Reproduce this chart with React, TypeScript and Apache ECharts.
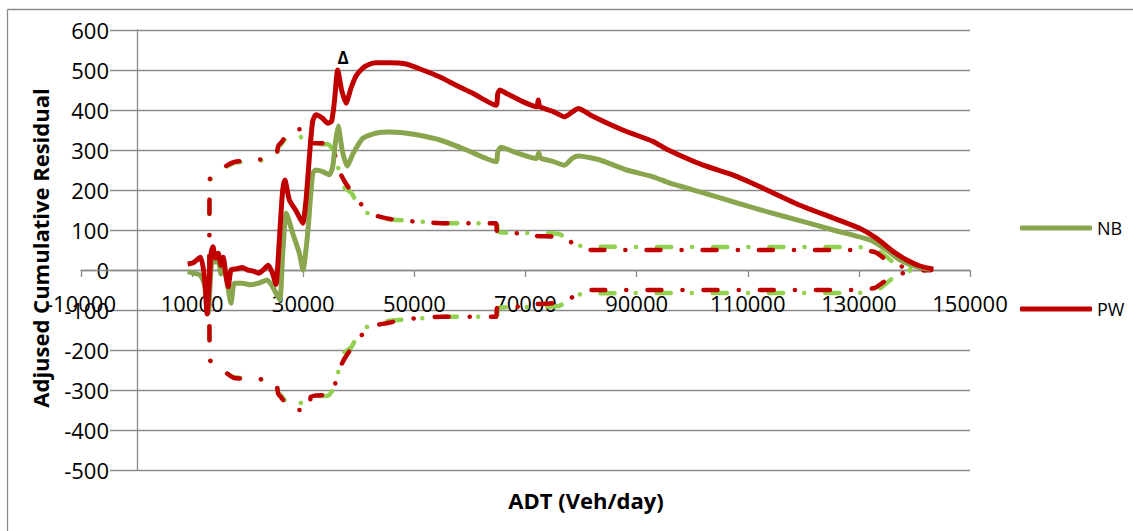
import React, { useEffect, useRef } from "react";
import * as echarts from "echarts";

// ---- data (x = ADT veh/day, y = adjusted cumulative residual) ----
const xTicksMin = -10000;
const xTicksMax = 150000;
const xTickStep = 20000;
const yMin = -500;
const yMax = 600;
const yStep = 100;

const nbCurve: number[][] = [
  [9200, -4], [10200, -8], [11500, -13], [12300, -40], [12900, -108], [13300, -20],
  [13700, 42], [14200, 20], [14700, 25], [15200, -10], [15700, 5], [16400, -40],
  [17000, -83], [17600, -33], [19000, -33], [20500, -37], [22000, -33], [23500, -25],
  [24500, -42], [25750, -75], [26300, 40], [26950, 142], [28100, 92], [29300, 42],
  [29950, 0], [30800, 92], [31700, 242], [32300, 250], [33500, 246], [34700, 238],
  [35300, 258], [35800, 320], [36300, 360], [37000, 300], [37900, 260], [39000, 292],
  [40700, 329], [43000, 342], [45500, 345], [47500, 344], [50400, 338], [54600, 325],
  [59400, 300], [64700, 271], [65000, 295], [65600, 307], [67800, 296], [72000, 279],
  [72400, 293], [72700, 280], [75000, 271], [77000, 262], [78500, 280], [79500, 285],
  [83400, 275], [88200, 250], [93000, 233], [96000, 217], [102000, 193], [107500, 170],
  [113400, 146], [119500, 123], [125400, 100], [132000, 75], [135000, 50], [137400, 25],
  [140400, 8], [142800, 2],
];

const pwCurve: number[][] = [
  [9200, 15], [10200, 18], [11500, 32], [12200, -15], [12700, -110], [13100, -30],
  [13450, 45], [13750, 58], [14200, 30], [14700, 42], [15200, 12], [15600, 32],
  [16000, -5], [16500, -42], [17000, 0], [18000, 3], [19000, 6], [20000, 0],
  [21000, -3], [22000, -8], [23000, 3], [23700, 12], [24400, -6], [25100, -36],
  [25500, 30], [25900, 120], [26300, 200], [26700, 225], [27500, 175], [28700, 148],
  [29900, 117], [30500, 175], [31200, 300], [31700, 372], [32300, 388], [33500, 379],
  [34400, 367], [35100, 372], [35600, 420], [36200, 500], [36900, 450], [37700, 417],
  [38600, 455], [39500, 485], [40500, 502], [41500, 512], [43000, 518], [45500, 518],
  [48500, 515], [51500, 500], [54500, 483], [57500, 462], [60500, 442], [64700, 412],
  [65000, 440], [65400, 450], [66500, 442], [69500, 421], [72000, 408], [72300, 425],
  [72600, 408], [75000, 396], [77000, 383], [78500, 396], [79500, 404], [82000, 385],
  [87500, 350], [93000, 321], [95400, 302], [102000, 262], [107400, 237], [112200, 208],
  [119400, 162], [125000, 132], [130200, 104], [133200, 79], [136200, 46], [138600, 25],
  [141000, 10], [143400, 2],
];

const nbUpper: number[][] = [
  [13100, 0], [13150, 222], [15500, 252], [17600, 268], [21300, 272], [25000, 280],
  [25500, 306], [26000, 314], [28000, 344], [29200, 337], [31000, 316], [34500, 314],
  [35300, 300], [36000, 275], [37000, 212], [38700, 192], [40300, 152], [42000, 140],
  [45000, 128], [48000, 124], [52000, 120], [55000, 117], [64800, 117], [65100, 95],
  [68000, 93], [72000, 92], [76000, 90], [78000, 72], [80000, 60], [82000, 58],
  [132000, 57], [134000, 44], [136500, 16], [138600, 3], [142000, 0],
];

const nbLower: number[][] = [
  [13100, 0], [13150, -222], [15500, -252], [17600, -268], [21300, -272], [25000, -280],
  [25500, -306], [26000, -314], [28000, -344], [29200, -337], [31000, -316], [34500, -314],
  [35300, -300], [36000, -275], [37000, -212], [38700, -192], [40300, -150], [42000, -140],
  [45000, -128], [48000, -124], [52000, -120], [55000, -117], [64800, -117], [65100, -95],
  [68000, -93], [72000, -92], [76000, -90], [78000, -72], [80000, -60], [82000, -58],
  [132000, -57], [134000, -44], [136500, -16], [138600, -3], [142000, 0],
];

const pwUpper: number[][] = [
  [13100, 0], [13150, 225], [15500, 255], [17600, 270], [21300, 275], [25000, 283],
  [25500, 310], [26000, 318], [28000, 352], [31200, 350], [31350, 318], [34200, 316],
  [35500, 308], [36000, 262], [37500, 220], [39500, 180], [42000, 142], [45000, 129],
  [48500, 123], [52000, 119], [55000, 117], [64700, 117], [64900, 96], [68000, 92],
  [71800, 90], [72100, 85], [75000, 83], [78000, 71], [80500, 52], [82000, 50],
  [130000, 50], [133000, 44], [136000, 15], [139500, 4], [143000, 0],
];

const pwLower: number[][] = [
  [13100, 0], [13150, -223], [15500, -250], [17600, -270], [21300, -272], [25000, -280],
  [25500, -310], [26000, -318], [28000, -350], [31200, -350], [31350, -317], [34200, -312],
  [35500, -304], [36000, -262], [37500, -220], [39500, -180], [42000, -142], [45000, -133],
  [48500, -123], [52000, -119], [55000, -117], [64700, -117], [64900, -95], [68000, -92],
  [71800, -90], [72100, -85], [75000, -83], [78000, -71], [80500, -52], [82000, -50],
  [130000, -50], [133000, -44], [136000, -15], [139500, -4], [143000, 0],
];

const seriesNames = ["NB", "PW"];
const xTitle = "ADT (Veh/day)";
const yTitle = "Adjused Cumulative Residual";
const peakMark = "Δ";

const RED = "#C00000";
const OLIVE = "#89A54E";
const LIGHT = "#92D050";
const GRID = "#8a8a8a";
const FONT = "'Open Sans', 'Noto Sans', sans-serif";

export default function App() {
  const ref = useRef<HTMLDivElement>(null);

  useEffect(() => {
    document.body.style.margin = "0";
    if (!ref.current) return;
    const chart = echarts.init(ref.current, undefined, { renderer: "svg" });

    const dashDot = [14, 21, 0.1, 21];
    const boundSeries = (name: string, data: number[][], color: string) => ({
      name,
      type: "line",
      data,
      smooth: 0.2,
      symbol: "none",
      lineStyle: { color, width: 4.5, type: dashDot, cap: "round" },
      z: 2,
    });

    chart.setOption({
      animation: false,
      textStyle: { fontFamily: FONT },
      grid: { left: 81, right: 163, top: 30, bottom: 61, containLabel: false },
      xAxis: {
        type: "value",
        position: "bottom",
        offset: -200,
        z: 1,
        min: xTicksMin,
        max: xTicksMax,
        interval: xTickStep,
        axisLine: { onZero: false, lineStyle: { color: GRID, width: 1.3 } },
        axisTick: { show: true, length: 7, lineStyle: { color: GRID, width: 1.3 } },
        axisLabel: {
          fontSize: 22,
          color: "#000",
          margin: 22,
          fontFamily: FONT,
          showMinLabel: true,
          showMaxLabel: true,
          formatter: (v: number) => String(v),
        },
        splitLine: { show: false },
      },
      yAxis: {
        type: "value",
        position: "left",
        offset: -56,
        z: 0,
        min: yMin,
        max: yMax,
        interval: yStep,
        axisLine: { show: true, onZero: false, lineStyle: { color: GRID, width: 1.3 } },
        axisTick: { show: false },
        axisLabel: {
          fontSize: 22,
          color: "#000",
          margin: 27,
          fontFamily: FONT,
          backgroundColor: "#ffffff",
          padding: [0, 1],
          formatter: (v: number) => String(v),
        },
        splitLine: { show: true, lineStyle: { color: GRID, width: 1.3 } },
      },
      legend: {
        data: seriesNames,
        orient: "vertical",
        left: 1020,
        top: 219,
        padding: 0,
        icon: "roundRect",
        itemWidth: 72,
        itemHeight: 5,
        itemGap: 63,
        textStyle: { fontSize: 18, color: "#000", fontFamily: FONT },
      },
      series: [
        boundSeries("NB upper", nbUpper, LIGHT),
        boundSeries("NB lower", nbLower, LIGHT),
        boundSeries("PW upper", pwUpper, RED),
        boundSeries("PW lower", pwLower, RED),
        {
          name: seriesNames[0],
          type: "line",
          data: nbCurve,
          smooth: 0.2,
          symbol: "none",
          lineStyle: { color: OLIVE, width: 5 },
          itemStyle: { color: OLIVE },
          z: 3,
        },
        {
          name: seriesNames[1],
          type: "line",
          data: pwCurve,
          smooth: 0.2,
          symbol: "none",
          lineStyle: { color: RED, width: 5 },
          itemStyle: { color: RED },
          z: 4,
        },
      ],
      graphic: [
        {
          type: "line",
          shape: { x1: 7.5, y1: 9.5, x2: 1133, y2: 9.5 },
          style: { stroke: "#8a8a8a", lineWidth: 1.3 },
        },
        {
          type: "line",
          shape: { x1: 7.5, y1: 9.5, x2: 7.5, y2: 531 },
          style: { stroke: "#8a8a8a", lineWidth: 1.3 },
        },
        {
          type: "text",
          x: 40,
          y: 248,
          rotation: Math.PI / 2,
          style: {
            text: yTitle,
            fontSize: 22,
            fontWeight: "bold",
            fontFamily: FONT,
            fill: "#000",
            textAlign: "center",
            textVerticalAlign: "middle",
          },
        },
        {
          type: "text",
          x: 586,
          y: 500,
          style: {
            text: xTitle,
            fontSize: 22,
            fontWeight: "bold",
            fontFamily: FONT,
            fill: "#000",
            textAlign: "center",
            textVerticalAlign: "middle",
          },
        },
        {
          type: "text",
          x: 343,
          y: 57,
          style: {
            text: peakMark,
            fontSize: 17,
            fontWeight: "bold",
            fontFamily: FONT,
            fill: "#000",
            textAlign: "center",
            textVerticalAlign: "middle",
          },
        },
      ],
    });

    return () => chart.dispose();
  }, []);

  return <div ref={ref} style={{ width: 1133, height: 531 }} />;
}
